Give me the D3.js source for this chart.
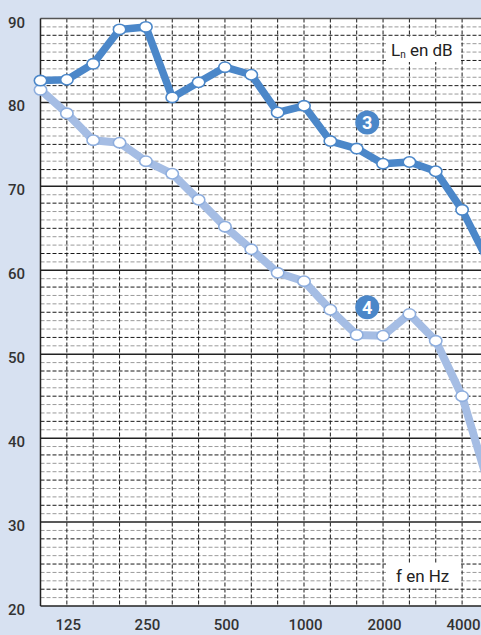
<!DOCTYPE html>
<html><head><meta charset="utf-8">
<script src="https://cdn.jsdelivr.net/npm/d3@7"></script>
<style>
html,body{margin:0;padding:0;background:#d7e1f1;overflow:hidden}
svg{display:block}
</style></head>
<body>
<script>
// Third-octave frequencies (Hz)
const freqs = [100,125,160,200,250,315,400,500,630,800,1000,1250,1600,2000,2500,3150,4000,5000];
const xTickLabels = ["125","250","500","1000","2000","4000"];
const yTicks = [20,30,40,50,60,70,80,90];
// Curve 3 (Ln in dB)
const curve3 = [82.6,82.7,84.6,88.7,89.0,80.6,82.4,84.2,83.3,78.8,79.6,75.4,74.5,72.7,72.9,71.8,67.2,61.0];
// Curve 4 (Ln in dB)
const curve4 = [81.5,78.7,75.5,75.2,73.0,71.5,68.4,65.2,62.5,59.7,58.7,55.3,52.3,52.2,54.8,51.6,45.0,34.5];

const W = 481, H = 635;
const svg = d3.select("body").append("svg").attr("width", W).attr("height", H);

const x = d3.scaleLinear().domain([0, freqs.length - 1]).range([40.5, 40.5 + 26.35 * (freqs.length - 1)]);
const y = d3.scaleLinear().domain([20, 90]).range([606, 18.5]);

// plot background
svg.append("rect").attr("x", x(0)).attr("y", y(90)).attr("width", W - x(0) + 10).attr("height", y(20) - y(90)).attr("fill", "#fff");

// horizontal minor grid (1 dB)
const minor = d3.range(21, 90).filter(v => v % 10 !== 0);
svg.append("g").selectAll("line").data(minor).join("line")
  .attr("x1", x(0)).attr("x2", W + 5)
  .attr("y1", d => y(d)).attr("y2", d => y(d))
  .attr("stroke", d => [2,5,8].includes(d % 10) ? "#1a1a1a" : "#9a9a9a")
  .attr("stroke-width", 1)
  .attr("stroke-dasharray", "4,2");

// vertical grid
svg.append("g").selectAll("line").data(d3.range(1, freqs.length)).join("line")
  .attr("x1", d => x(d)).attr("x2", d => x(d))
  .attr("y1", y(90)).attr("y2", y(20))
  .attr("stroke", "#1a1a1a").attr("stroke-width", 1).attr("stroke-dasharray", "4,2");

// major horizontal lines
svg.append("g").selectAll("line").data(yTicks.filter(v => v > 20 && v < 90)).join("line")
  .attr("x1", x(0)).attr("x2", W + 5)
  .attr("y1", d => y(d)).attr("y2", d => y(d))
  .attr("stroke", "#222").attr("stroke-width", 1.5);

// borders
svg.append("line").attr("x1", x(0)).attr("x2", W + 5).attr("y1", y(90)).attr("y2", y(90)).attr("stroke", "#555").attr("stroke-width", 1.5);
svg.append("line").attr("x1", x(0)).attr("x2", W + 5).attr("y1", y(20)).attr("y2", y(20)).attr("stroke", "#222").attr("stroke-width", 1.5);
svg.append("line").attr("x1", x(0)).attr("x2", x(0)).attr("y1", y(90)).attr("y2", y(20)).attr("stroke", "#222").attr("stroke-width", 1.5);

// Y tick labels
svg.append("g").selectAll("text").data(yTicks).join("text")
  .attr("x", 25).attr("y", d => y(d) + 9)
  .attr("text-anchor", "end")
  .attr("font-family", "Roboto, sans-serif").attr("font-weight", 500).attr("font-size", 15)
  .attr("fill", "#333").text(d => d);

// X tick labels
const labelIdx = [1,4,7,10,13,16];
svg.append("g").selectAll("text").data(labelIdx).join("text")
  .attr("x", (d) => x(d) + 1.5).attr("y", 630)
  .attr("text-anchor", "middle")
  .attr("font-family", "Roboto, sans-serif").attr("font-weight", 500).attr("font-size", 15)
  .attr("fill", "#333").text((d, i) => xTickLabels[i]);

// Axis label boxes
svg.append("rect").attr("x", 386).attr("y", 37).attr("width", 75).attr("height", 25).attr("fill", "#fff");
const tl = svg.append("text").attr("x", 391).attr("y", 56)
  .attr("font-family", "Roboto, sans-serif").attr("font-size", 17).attr("fill", "#222");
tl.append("tspan").text("L");
tl.append("tspan").attr("font-size", 10).attr("dy", 2).text("n");
tl.append("tspan").attr("dy", -2).text(" en dB");

svg.append("rect").attr("x", 386).attr("y", 563).attr("width", 75).attr("height", 24).attr("fill", "#fff");
svg.append("text").attr("x", 396).attr("y", 582)
  .attr("font-family", "Roboto, sans-serif").attr("font-size", 17).attr("fill", "#222").text("f en Hz");

// curves
const line = d3.line().x((d, i) => x(i)).y(d => y(d));
function drawCurve(data, color, width, mStroke) {
  const g = svg.append("g");
  g.append("path").datum(data).attr("d", line)
    .attr("fill", "none").attr("stroke", color).attr("stroke-width", width)
    .attr("stroke-linejoin", "round").attr("stroke-linecap", "round");
  g.selectAll("ellipse").data(data).join("ellipse")
    .attr("cx", (d, i) => x(i)).attr("cy", d => y(d))
    .attr("rx", 6.2).attr("ry", 5.2)
    .attr("fill", "#fff").attr("stroke", mStroke).attr("stroke-width", 1.6);
}
drawCurve(curve4, "#a5bde4", 8, "#8eaede");
drawCurve(curve3, "#4b87c9", 7.5, "#4b87c9");

// badges
const badges = [{t: "3", idx: 12.4, v: 77.6}, {t: "4", idx: 12.4, v: 55.6}];
const bg = svg.append("g").selectAll("g").data(badges).join("g")
  .attr("transform", d => `translate(${x(d.idx)},${y(d.v)})`);
bg.append("circle").attr("r", 12).attr("fill", "#4b87c9");
bg.append("text").attr("y", 6.5).attr("text-anchor", "middle")
  .attr("font-family", "Roboto, sans-serif").attr("font-weight", 700).attr("font-size", 18)
  .attr("fill", "#fff").text(d => d.t);
</script>
</body></html>
